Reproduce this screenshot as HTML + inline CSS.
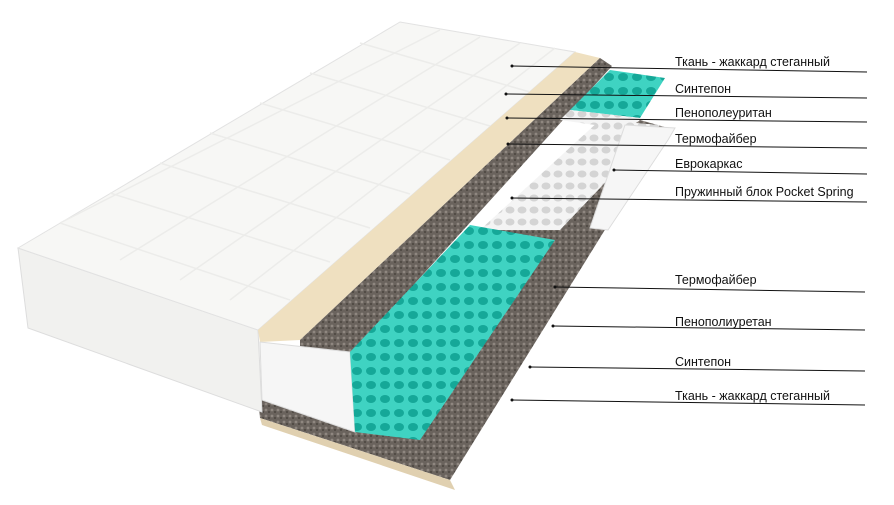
<!DOCTYPE html>
<html><head><meta charset="utf-8"><style>
html,body{margin:0;padding:0;background:#fff;width:894px;height:505px;overflow:hidden}
svg{position:absolute;left:0;top:0}
.t{font-family:"Liberation Sans","DejaVu Sans",sans-serif;font-size:12.5px;fill:#111}
</style></head><body>
<svg width="894" height="505" viewBox="0 0 894 505">
<defs>
<pattern id="cy" width="14" height="14" patternUnits="userSpaceOnUse">
<rect width="14" height="14" fill="#3fd3c2"/><ellipse cx="7" cy="7" rx="5" ry="4" fill="#15a898"/>
</pattern>
<pattern id="wh" width="12" height="12" patternUnits="userSpaceOnUse">
<rect width="12" height="12" fill="#f4f4f4"/><ellipse cx="6" cy="6" rx="4.5" ry="3.5" fill="#d4d4d4"/>
</pattern>
<pattern id="gr" width="6" height="6" patternUnits="userSpaceOnUse">
<rect width="6" height="6" fill="#6a635d"/><circle cx="2" cy="2" r="1.4" fill="#8f8780"/><circle cx="5" cy="4" r="1" fill="#4a443f"/>
</pattern>
</defs>
<polygon points="258,398 640,120 668,128 450,480 260,418" fill="url(#gr)"/>
<polygon points="260,418 450,480 455,490 262,425" fill="#e0d0b0"/>
<polygon points="18,248 258,330 262,412 28,328" fill="#f1f1ef" stroke="#ddd"/>
<polygon points="18,248 400,22 575,52 258,330" fill="#f7f7f5" stroke="#e2e2e2"/>
<g stroke="#ececea" stroke-width="1.5" fill="none">
<path d="M60,223 L290,300 M110,193 L330,262 M160,163 L370,228 M210,133 L410,194 M260,103 L450,160 M310,73 L490,126 M360,43 L530,92"/>
<path d="M60,223 L440,30 M120,260 L480,37 M180,280 L520,43 M230,300 L555,48"/>
</g>
<polygon points="258,330 575,52 600,58 300,340 260,342" fill="#efe0c0"/>
<polygon points="300,340 600,58 612,66 350,355 300,355" fill="url(#gr)"/>
<polygon points="260,342 350,352 355,432 262,400" fill="#f6f6f6" stroke="#ddd"/>
<polygon points="480,230 600,120 660,125 560,230" fill="url(#wh)"/>
<polygon points="570,110 610,70 665,78 640,118" fill="url(#cy)"/>
<polygon points="560,120 570,110 640,118 630,130" fill="url(#wh)"/>
<polygon points="350,352 470,225 555,240 420,440 355,432" fill="url(#cy)"/>
<polygon points="625,125 675,128 668,140 608,230 590,228" fill="#f6f6f6" stroke="#ddd"/>
<g stroke="#111" stroke-width="1">
<line x1="512" y1="66" x2="867" y2="72"/>
<line x1="506" y1="94" x2="867" y2="98"/>
<line x1="507" y1="118" x2="867" y2="122"/>
<line x1="508" y1="144" x2="867" y2="148"/>
<line x1="614" y1="170" x2="867" y2="174"/>
<line x1="512" y1="198" x2="867" y2="202"/>
<line x1="555" y1="287" x2="865" y2="292"/>
<line x1="553" y1="326" x2="865" y2="330"/>
<line x1="530" y1="367" x2="865" y2="371"/>
<line x1="512" y1="400" x2="865" y2="405"/>
</g>
<g fill="#111">
<circle cx="512" cy="66" r="1.5"/><circle cx="506" cy="94" r="1.5"/><circle cx="507" cy="118" r="1.5"/>
<circle cx="508" cy="144" r="1.5"/><circle cx="614" cy="170" r="1.5"/><circle cx="512" cy="198" r="1.5"/>
<circle cx="555" cy="287" r="1.5"/><circle cx="553" cy="326" r="1.5"/><circle cx="530" cy="367" r="1.5"/><circle cx="512" cy="400" r="1.5"/>
</g>
<text class="t" x="675" y="66">Ткань - жаккард стеганный</text>
<text class="t" x="675" y="93">Синтепон</text>
<text class="t" x="675" y="117">Пенополеуритан</text>
<text class="t" x="675" y="143">Термофайбер</text>
<text class="t" x="675" y="168">Еврокаркас</text>
<text class="t" x="675" y="196">Пружинный блок Pocket Spring</text>
<text class="t" x="675" y="284">Термофайбер</text>
<text class="t" x="675" y="326">Пенополиуретан</text>
<text class="t" x="675" y="366">Синтепон</text>
<text class="t" x="675" y="400">Ткань - жаккард стеганный</text>
</svg>
</body></html>
